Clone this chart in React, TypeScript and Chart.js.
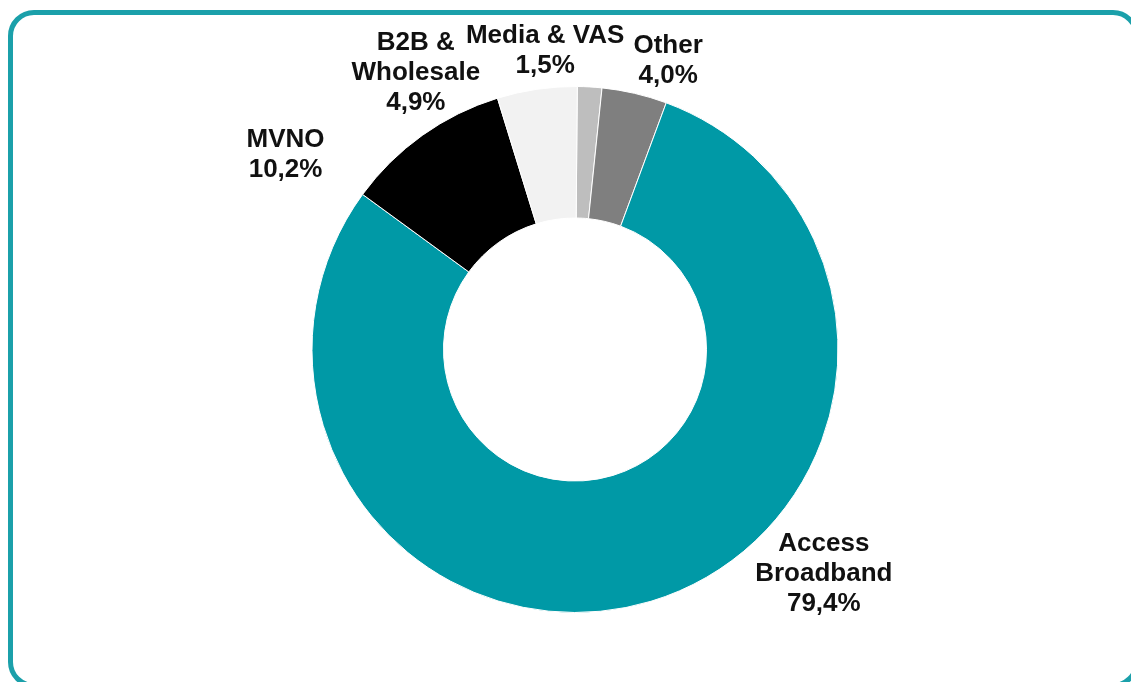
import React, { useEffect, useRef } from "react";
import { Chart, registerables } from "chart.js";

Chart.register(...registerables);

// ---- data ----
const categories = ["Media & VAS", "Other", "Access Broadband", "MVNO", "B2B & Wholesale"];
const shares = [1.5, 4.0, 79.4, 10.2, 4.9];
const labelLines = [
  ["Media & VAS", "1,5%"],
  ["Other", "4,0%"],
  ["Access", "Broadband", "79,4%"],
  ["MVNO", "10,2%"],
  ["B2B &", "Wholesale", "4,9%"],
];
const sliceColors = ["#bebebe", "#7f7f7f", "#0099a6", "#000000", "#f2f2f2"];

// label placement: polar angle (deg, clockwise from top) and radius factor relative to outer radius
const labelAngles = [354.3, 17.9, 132.0, 303.9, 330.1];
const labelRadii = [1.142, 1.152, 1.273, 1.326, 1.214];

const W = 1131;
const H = 682;

const outsideLabels = {
  id: "outsideLabels",
  afterDatasetsDraw(chart: any) {
    const meta = chart.getDatasetMeta(0);
    const ctx = chart.ctx;
    ctx.save();
    ctx.fillStyle = "#111111";
    ctx.font = "bold 26px 'Liberation Sans', Arial, sans-serif";
    ctx.textAlign = "center";
    ctx.textBaseline = "middle";
    const lineH = 30;
    meta.data.forEach((arc: any, i: number) => {
      const a = (labelAngles[i] * Math.PI) / 180;
      const r = arc.outerRadius * labelRadii[i];
      const cx = arc.x + Math.sin(a) * r;
      const cy = arc.y - Math.cos(a) * r;
      const lines = labelLines[i];
      const y0 = cy - ((lines.length - 1) * lineH) / 2;
      lines.forEach((t, j) => ctx.fillText(t, cx, y0 + j * lineH));
    });
    ctx.restore();
  },
};

export default function App() {
  const ref = useRef<HTMLCanvasElement | null>(null);
  useEffect(() => {
    if (!ref.current) return;
    const chart = new Chart(ref.current, {
      type: "doughnut",
      data: {
        labels: categories,
        datasets: [
          {
            data: shares,
            backgroundColor: sliceColors,
            borderColor: "#ffffff",
            borderWidth: 1,
            hoverOffset: 0,
          },
        ],
      },
      options: {
        responsive: false,
        animation: false,
        cutout: "50%",
        rotation: 0.5,
        layout: { padding: { top: 86, bottom: 69, left: 225, right: 206 } },
        plugins: {
          legend: { display: false },
          tooltip: { enabled: false },
        },
      },
      plugins: [outsideLabels],
    });
    return () => chart.destroy();
  }, []);

  return (
    <div style={{ position: "absolute", left: 0, top: 0, width: W, height: H, overflow: "hidden", background: "#ffffff" }}>
      <div
        style={{
          position: "absolute",
          left: 8,
          top: 10,
          width: 1131,
          height: 678,
          boxSizing: "border-box",
          border: "5px solid #1ba0aa",
          borderRadius: 26,
        }}
      />
      <canvas ref={ref} width={W} height={H} style={{ position: "absolute", left: 0, top: 0, width: W, height: H }} />
    </div>
  );
}
